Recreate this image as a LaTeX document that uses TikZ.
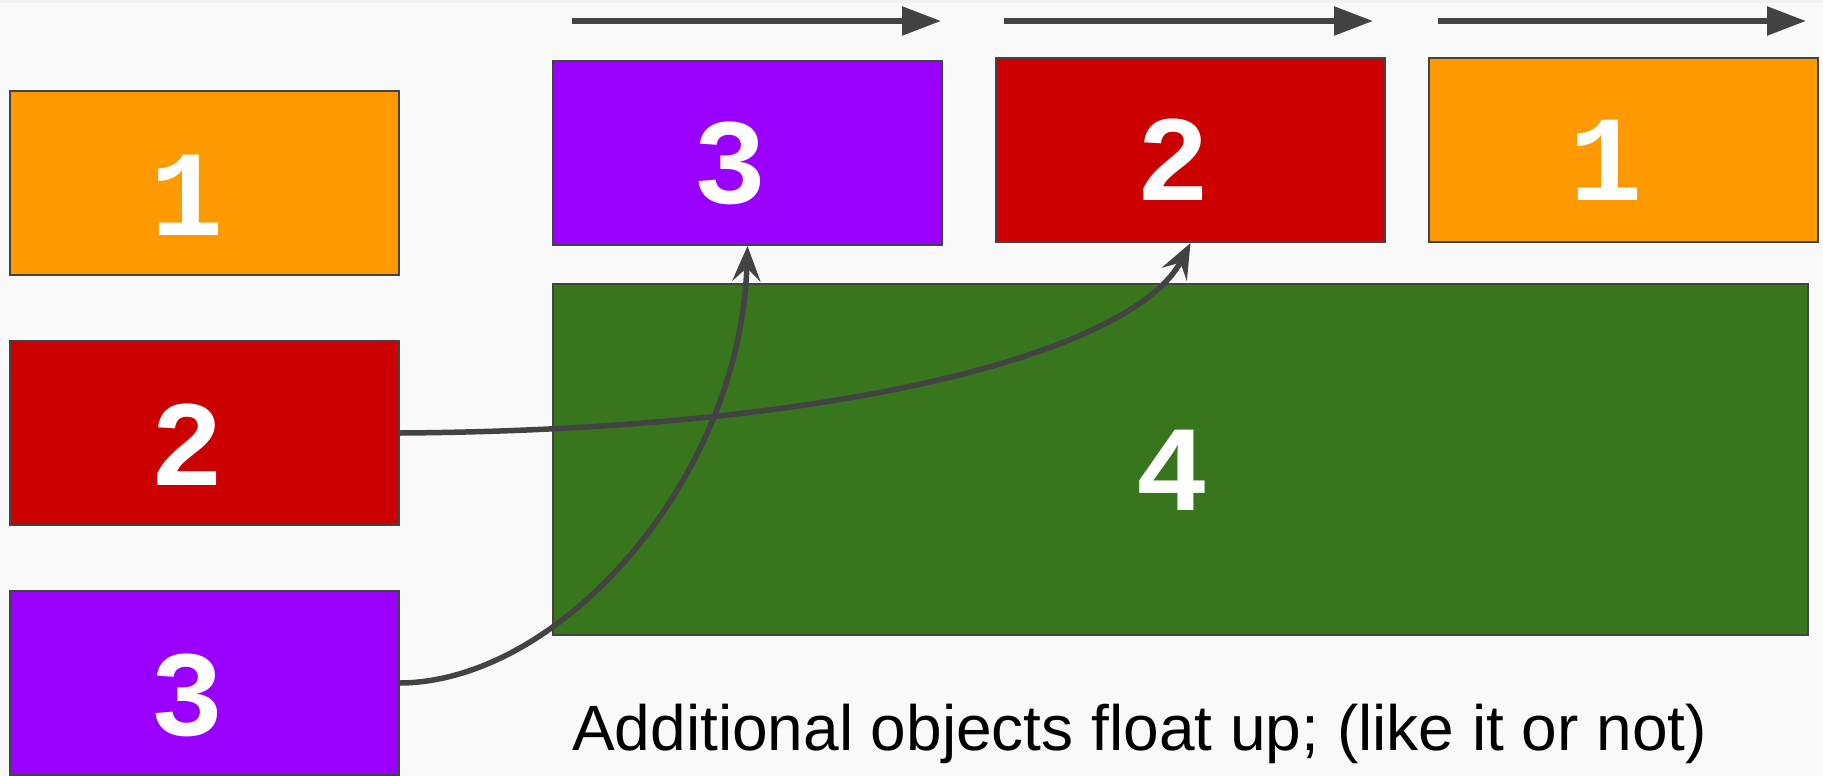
\documentclass[tikz,border=0pt]{standalone}
\usepackage{fontspec}
\setmainfont{Liberation Sans}
\newfontfamily\digitfont{Liberation Mono}
\usetikzlibrary{arrows.meta}
\definecolor{bgcol}{HTML}{F9F9F9}
\definecolor{edgecol}{HTML}{434343}
\definecolor{cOrange}{HTML}{FF9900}
\definecolor{cRed}{HTML}{CC0000}
\definecolor{cPurple}{HTML}{9900FF}
\definecolor{cGreen}{HTML}{38761D}
\begin{document}
\begin{tikzpicture}[x=1pt,y=-1pt,
  box/.style={draw=edgecol, line width=2pt, anchor=north west, inner sep=0pt,
    minimum width=389pt, minimum height=184pt},
  digit/.style={text=white, font=\digitfont\bfseries\fontsize{122}{122}\selectfont},
  flow/.style={draw=edgecol, line width=5.5pt, -{Triangle[length=39pt,width=28pt]}},
  conn/.style={draw=edgecol, line width=5.5pt, -{Stealth[length=35pt,width=28pt,inset=13pt]}},
]
\fill[bgcol] (0,0) rectangle (1823,776);
\fill[black!5] (0,0) rectangle (1823,3);
\useasboundingbox (0,0) rectangle (1823,776);

% original stacking order on the left
\node[box, fill=cOrange, label={[digit, xshift=-17pt, yshift=-12pt]center:1}] (l1) at (9,90) {};
\node[box, fill=cRed,    label={[digit, xshift=-17pt, yshift=-12pt]center:2}] (l2) at (9,340) {};
\node[box, fill=cPurple, label={[digit, xshift=-17pt, yshift=-12pt]center:3}] (l3) at (9,590) {};

% resulting order at the top
\node[box, fill=cPurple, label={[digit, xshift=-17pt, yshift=-10pt]center:3}] (t3) at (552,60) {};
\node[box, fill=cRed,    label={[digit, xshift=-17pt, yshift=-10pt]center:2}] (t2) at (995,57) {};
\node[box, fill=cOrange, label={[digit, xshift=-17pt, yshift=-10pt]center:1}] (t1) at (1428,57) {};

% the large block
\node[box, fill=cGreen, minimum width=1255pt, minimum height=351pt,
  label={[digit, xshift=-8pt, yshift=-11pt]center:4}] (g4) at (552,283) {};

% direction arrows above the top row
\coordinate (a1s) at (572,21);  \coordinate (a1e) at (941,21);
\coordinate (a2s) at (1004,21); \coordinate (a2e) at (1373,21);
\coordinate (a3s) at (1438,21); \coordinate (a3e) at (1806,21);
\draw[flow] (a1s) -- (a1e);
\draw[flow] (a2s) -- (a2e);
\draw[flow] (a3s) -- (a3e);

% objects floating up
\draw[conn] (l3.east) .. controls (560,682) and (740,480) .. (t3.south);
\draw[conn] (l2.east) .. controls (850,430) and (1135,350) .. (t2.south);

\node[anchor=base west, inner sep=0pt, font=\fontsize{64}{76}\selectfont] (cap) at (572,750)
  {Additional objects float up; (like it or not)};
\end{tikzpicture}
\end{document}
